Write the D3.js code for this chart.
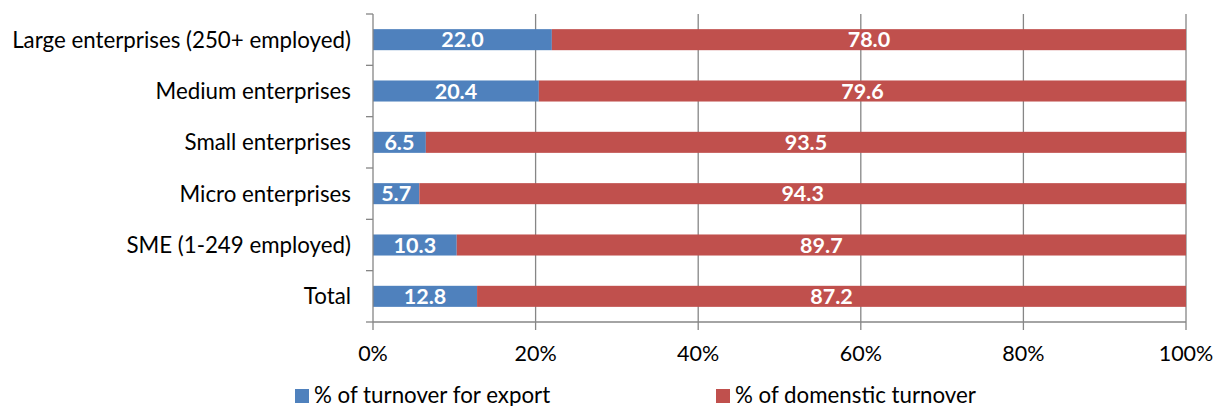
<!DOCTYPE html>
<html>
<head>
<meta charset="utf-8">
<script src="https://cdn.jsdelivr.net/npm/d3@7"></script>
<style>
  body { margin: 0; background: #fff; }
  text { font-family: Lato, "Open Sans", sans-serif; }
</style>
</head>
<body>
<svg id="chart" width="1217" height="406"></svg>
<script>
const categories = ["Large enterprises (250+ employed)", "Medium enterprises", "Small enterprises",
  "Micro enterprises", "SME (1-249 employed)", "Total"];
const exportShare = [22.0, 20.4, 6.5, 5.7, 10.3, 12.8];
const domesticShare = [78.0, 79.6, 93.5, 94.3, 89.7, 87.2];
const xTicks = [0, 20, 40, 60, 80, 100];
const seriesNames = ["% of turnover for export", "% of domenstic turnover"];
const colors = ["#4F81BD", "#C0504D"];

const svg = d3.select("#chart");
const plotLeft = 373, plotRight = 1186, plotTop = 14, plotBottom = 322;
const axisColor = "#868686";

const x = d3.scaleLinear().domain([0, 100]).range([plotLeft, plotRight]);
const y = d3.scaleBand().domain(categories).range([plotTop, plotBottom])
  .paddingInner(0.59).paddingOuter(0.295);

// gridlines
xTicks.slice(1).forEach(t => {
  svg.append("line")
    .attr("x1", x(t)).attr("x2", x(t))
    .attr("y1", plotTop).attr("y2", plotBottom + 8)
    .attr("stroke", axisColor).attr("stroke-width", 1.3)
});

// bars
const rows = categories.map((c, i) => ({ c, a: exportShare[i], b: domesticShare[i] }));
rows.forEach(r => {
  svg.append("rect")
    .attr("x", x(0)).attr("y", y(r.c))
    .attr("width", x(r.a) - x(0)).attr("height", y.bandwidth())
    .attr("fill", colors[0])
  svg.append("rect")
    .attr("x", x(r.a)).attr("y", y(r.c))
    .attr("width", x(r.a + r.b) - x(r.a)).attr("height", y.bandwidth())
    .attr("fill", colors[1])
  svg.append("text")
    .attr("x", x(r.a / 2)).attr("y", y(r.c) + y.bandwidth() / 2)
    .attr("dy", "0.36em").attr("text-anchor", "middle")
    .attr("fill", "#fff").attr("font-weight", "bold").attr("font-size", 21.5)
    .text(r.a.toFixed(1))
  svg.append("text")
    .attr("x", x(r.a + r.b / 2)).attr("y", y(r.c) + y.bandwidth() / 2)
    .attr("dy", "0.36em").attr("text-anchor", "middle")
    .attr("fill", "#fff").attr("font-weight", "bold").attr("font-size", 21.5)
    .text(r.b.toFixed(1))
});

// y axis
svg.append("line")
  .attr("x1", plotLeft).attr("x2", plotLeft).attr("y1", plotTop).attr("y2", plotBottom + 8)
  .attr("stroke", axisColor).attr("stroke-width", 1.3)
d3.range(categories.length + 1).forEach(i => {
  const yy = plotTop + i * y.step();
  svg.append("line")
    .attr("x1", plotLeft - 7).attr("x2", plotLeft).attr("y1", yy).attr("y2", yy)
    .attr("stroke", axisColor).attr("stroke-width", 1.3)
});
categories.forEach(c => {
  svg.append("text")
    .attr("x", plotLeft - 22).attr("y", y(c) + y.bandwidth() / 2)
    .attr("dy", "0.36em").attr("text-anchor", "end")
    .attr("font-size", 22.3).attr("fill", "#000")
    .text(c)
});

// x axis
svg.append("line")
  .attr("x1", plotLeft).attr("x2", plotRight).attr("y1", plotBottom).attr("y2", plotBottom)
  .attr("stroke", axisColor).attr("stroke-width", 1.3)
xTicks.forEach(t => {
  svg.append("text")
    .attr("x", x(t)).attr("y", plotBottom + 39)
    .attr("text-anchor", "middle").attr("font-size", 21.5).attr("fill", "#000")
    .text(t + "%")
});

// legend
const legendX = [295, 716];
seriesNames.forEach((name, i) => {
  svg.append("rect")
    .attr("x", legendX[i]).attr("y", 389)
    .attr("width", 14).attr("height", 14)
    .attr("fill", colors[i])
  svg.append("text")
    .attr("x", legendX[i] + 19).attr("y", 403)
    .attr("font-size", 22.3).attr("fill", "#000")
    .text(name)
});
</script>
</body>
</html>
